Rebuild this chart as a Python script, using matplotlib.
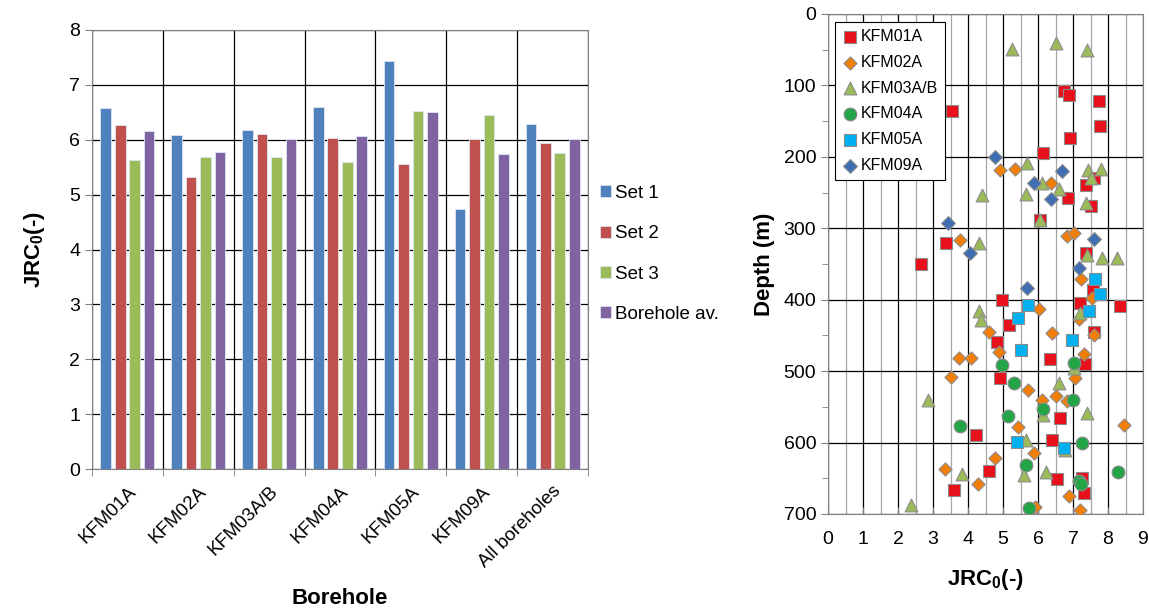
import numpy as np
import matplotlib
matplotlib.use("Agg")
import matplotlib.pyplot as plt
from matplotlib.ticker import MultipleLocator

plt.rcParams["font.family"] = ["Liberation Sans", "DejaVu Sans"]
plt.rcParams["mathtext.fontset"] = "custom"
plt.rcParams["mathtext.rm"] = "Liberation Sans"
plt.rcParams["mathtext.bf"] = "Liberation Sans:bold"

# --- left chart data: mean JRC0 per borehole and joint set
boreholes = ["KFM01A", "KFM02A", "KFM03A/B", "KFM04A", "KFM05A", "KFM09A", "All boreholes"]
set1 = [6.57, 6.08, 6.18, 6.60, 7.44, 4.73, 6.29]
set2 = [6.27, 5.32, 6.11, 6.04, 5.55, 6.02, 5.94]
set3 = [5.64, 5.69, 5.69, 5.60, 6.53, 6.46, 5.76]
borehole_av = [6.16, 5.78, 6.01, 6.06, 6.51, 5.74, 6.01]
bar_labels = ["Set 1", "Set 2", "Set 3", "Borehole av."]
bar_colors = ["#4F81BD", "#C0504D", "#9BBB59", "#8064A2"]

# --- right chart data: JRC0 vs depth per borehole
kfm01a_jrc = [3.54, 6.74, 6.88, 7.74, 7.78, 6.90, 6.15, 7.38, 7.61, 6.85, 7.51, 6.05, 3.36,
              2.67, 7.38, 7.57, 8.34, 4.96, 7.19, 5.17, 7.61, 4.82, 6.35, 7.34, 4.91, 6.63,
              4.22, 6.40, 4.61, 6.54, 7.25, 3.61, 7.30]
kfm01a_depth = [136, 108, 113, 122, 157, 173, 195, 240, 229, 257, 269, 289, 321,
                350, 335, 387, 409, 401, 405, 435, 445, 459, 483, 490, 509, 566,
                589, 597, 640, 651, 650, 667, 670]

kfm02a_jrc = [4.90, 5.33, 6.36, 3.78, 6.84, 7.03, 7.22, 7.54, 6.02, 7.18, 4.61, 6.41, 7.59,
              4.88, 7.30, 3.75, 4.08, 3.51, 7.07, 5.72, 6.12, 6.50, 6.84, 8.46, 5.43, 5.89,
              4.77, 3.34, 4.28, 6.89, 5.91, 7.20]
kfm02a_depth = [218, 217, 236, 316, 311, 307, 371, 397, 413, 427, 445, 446, 450,
                473, 476, 482, 482, 508, 510, 526, 540, 535, 542, 575, 578, 615,
                621, 637, 658, 675, 690, 694]

kfm03a_jrc = [5.27, 6.50, 7.41, 5.69, 7.43, 7.81, 7.51, 6.12, 6.61, 4.40, 5.66, 7.38, 6.05,
              4.30, 7.41, 7.83, 8.25, 7.20, 4.30, 4.36, 7.03, 6.61, 2.87, 7.41, 6.14, 5.66,
              6.77, 3.82, 5.60, 6.22, 2.38]
kfm03a_depth = [49, 41, 51, 208, 218, 217, 229, 237, 245, 253, 252, 265, 289,
                321, 338, 342, 341, 419, 416, 429, 495, 516, 540, 558, 562, 597,
                611, 644, 645, 641, 687]

kfm04a_jrc = [4.96, 7.03, 5.32, 6.99, 6.14, 5.14, 3.77, 7.25, 5.65, 8.28, 7.16, 7.24, 5.73]
kfm04a_depth = [492, 488, 516, 541, 553, 563, 577, 601, 631, 641, 654, 658, 691]

kfm05a_jrc = [7.62, 7.78, 5.72, 7.47, 5.42, 6.96, 5.52, 5.41, 6.73]
kfm05a_depth = [371, 392, 407, 416, 425, 457, 470, 599, 607]

kfm09a_jrc = [4.77, 6.68, 5.89, 6.36, 3.42, 4.06, 7.60, 7.17, 5.69]
kfm09a_depth = [200, 220, 236, 259, 293, 335, 315, 355, 384]

fig = plt.figure(figsize=(11.49, 6.10), dpi=100)

# ---------------- bar chart ----------------
ax1 = fig.add_axes([92 / 1149, 1 - 469 / 610, 496 / 1149, 439 / 610])
x = np.arange(len(boreholes))
width = 0.15
offsets = [-0.306, -0.102, 0.102, 0.306]
for vals, off, col, lab in zip([set1, set2, set3, borehole_av], offsets, bar_colors, bar_labels):
    ax1.bar(x + off, vals, width, color=col, edgecolor="#DCE6F2", linewidth=0.6,
            label=lab, zorder=3)

ax1.set_xlim(-0.5, len(boreholes) - 0.5)
ax1.set_ylim(0, 8)
ax1.set_yticks(range(0, 9))
ax1.set_xticks(x)
ax1.set_xticklabels(boreholes, rotation=45, ha="right", rotation_mode="anchor", fontsize=13.5)
ax1.set_xticks(np.arange(-0.5, len(boreholes)), minor=True)
ax1.tick_params(axis="x", which="major", length=0, pad=10)
ax1.tick_params(axis="x", which="minor", length=5, direction="out", color="#808080")
ax1.tick_params(axis="y", labelsize=14, length=5, direction="out", color="#808080")
ax1.grid(True, axis="y", color="black", linewidth=0.9, zorder=0)
ax1.grid(True, axis="x", which="minor", color="black", linewidth=0.9, zorder=0)
for s in ax1.spines.values():
    s.set_color("#808080")
ax1.set_xlabel("Borehole", fontsize=16, fontweight="bold", labelpad=12)
ax1.set_ylabel(r"JRC$_\mathbf{0}$(-)", fontsize=16, fontweight="bold", labelpad=16)
ax1.legend(loc="center left", bbox_to_anchor=(0.99, 0.49), frameon=False, fontsize=13.5,
           handlelength=0.6, handleheight=0.6, labelspacing=1.25, handletextpad=0.2)

# ---------------- scatter chart ----------------
ax2 = fig.add_axes([828 / 1149, 1 - 514 / 610, 315 / 1149, 500 / 610])
edge = "#8C8C8C"
ax2.scatter(kfm01a_jrc, kfm01a_depth, marker="s", s=75, color="#E8101A", edgecolor=edge,
            linewidth=0.8, label="KFM01A", zorder=3)
ax2.scatter(kfm02a_jrc, kfm02a_depth, marker="D", s=45, color="#F07E09", edgecolor=edge,
            linewidth=0.8, label="KFM02A", zorder=3)
ax2.scatter(kfm03a_jrc, kfm03a_depth, marker="^", s=85, color="#9BBB59", edgecolor=edge,
            linewidth=0.8, label="KFM03A/B", zorder=3)
ax2.scatter(kfm04a_jrc, kfm04a_depth, marker="o", s=85, color="#22A447", edgecolor=edge,
            linewidth=0.8, label="KFM04A", zorder=3)
ax2.scatter(kfm05a_jrc, kfm05a_depth, marker="s", s=75, color="#00B0F0", edgecolor=edge,
            linewidth=0.8, label="KFM05A", zorder=3)
ax2.scatter(kfm09a_jrc, kfm09a_depth, marker="D", s=50, color="#3F6FB2", edgecolor=edge,
            linewidth=0.8, label="KFM09A", zorder=3)

ax2.set_xlim(0, 9)
ax2.set_ylim(700, 0)
ax2.xaxis.set_major_locator(MultipleLocator(1))
ax2.xaxis.set_minor_locator(MultipleLocator(0.5))
ax2.yaxis.set_major_locator(MultipleLocator(100))
ax2.yaxis.set_minor_locator(MultipleLocator(50))
ax2.grid(True, which="major", color="black", linewidth=0.9, zorder=0)
ax2.grid(True, axis="x", which="minor", color="#A6A6A6", linewidth=0.9, zorder=0)
ax2.tick_params(axis="x", which="major", labelsize=14, length=5, direction="in", pad=12,
                color="#808080")
ax2.tick_params(axis="x", which="minor", length=0)
ax2.tick_params(axis="y", which="major", labelsize=14, length=5, direction="out",
                color="#808080")
ax2.tick_params(axis="y", which="minor", length=4, direction="out", color="#808080")
for s in ax2.spines.values():
    s.set_color("#808080")
ax2.set_xlabel(r"JRC$_\mathbf{0}$(-)", fontsize=16, fontweight="bold", labelpad=14)
ax2.set_ylabel("Depth (m)", fontsize=16, fontweight="bold", labelpad=6)
leg = ax2.legend(loc="upper left", bbox_to_anchor=(0.012, 0.99), fontsize=11.5,
                 frameon=True, fancybox=False, edgecolor="black", framealpha=1,
                 labelspacing=0.68, handletextpad=0.1, handlelength=1.1,
                 borderpad=0.42, borderaxespad=0.2, scatterpoints=1)
leg.get_frame().set_linewidth(0.8)

plt.savefig("out.png", dpi=100)
plt.close()
